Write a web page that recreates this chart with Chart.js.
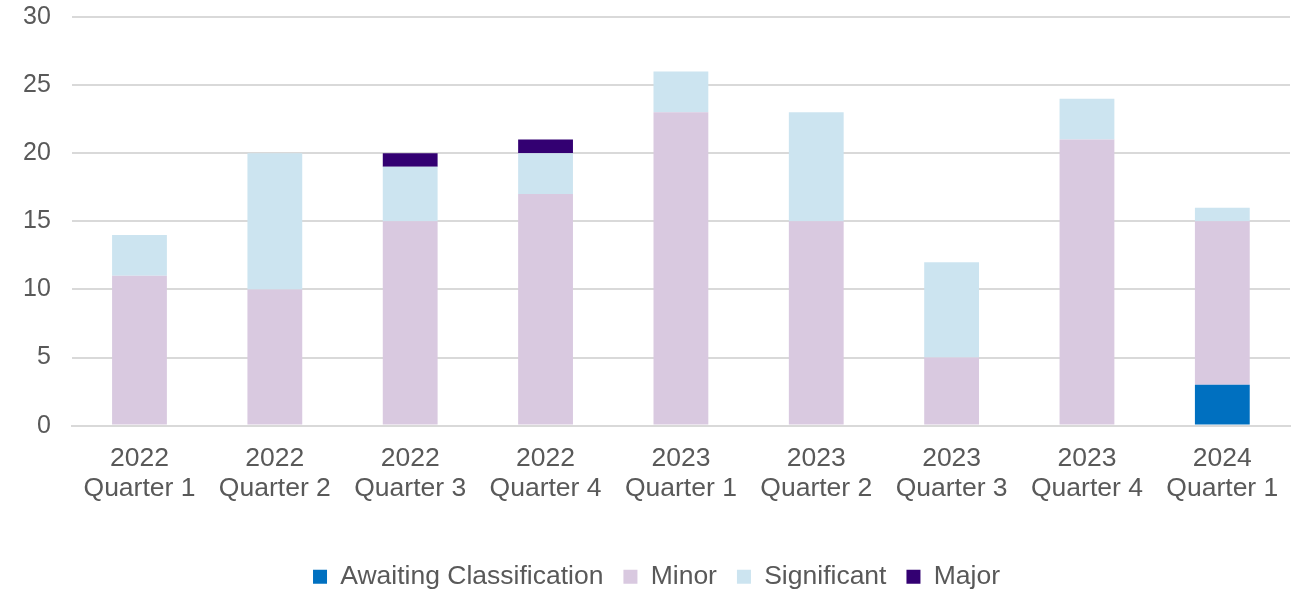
<!DOCTYPE html>
<html>
<head>
<meta charset="utf-8">
<script src="https://cdn.jsdelivr.net/npm/chart.js@4"></script>
<style>
  html, body { margin: 0; padding: 0; background: #fff; }
  #wrap { width: 1306px; height: 592px; position: relative; }
</style>
</head>
<body>
<div id="wrap"><canvas id="myChart"></canvas></div>
<script>
var quarters = [
    ['2022', 'Quarter 1'], ['2022', 'Quarter 2'], ['2022', 'Quarter 3'],
    ['2022', 'Quarter 4'], ['2023', 'Quarter 1'], ['2023', 'Quarter 2'],
    ['2023', 'Quarter 3'], ['2023', 'Quarter 4'], ['2024', 'Quarter 1']
];
var awaiting = [0, 0, 0, 0, 0, 0, 0, 0, 3];
var minor = [11, 10, 15, 17, 23, 15, 5, 21, 12];
var significant = [3, 10, 4, 3, 3, 8, 7, 3, 1];
var major = [0, 0, 1, 1, 0, 0, 0, 0, 0];

Chart.defaults.font.family = '"Liberation Sans", Arial, sans-serif';
Chart.defaults.color = '#595959';

var ctx = document.getElementById('myChart');
var myChart = new Chart(ctx, {
    type: 'bar',
    data: {
        labels: quarters,
        datasets: [
            { label: 'Awaiting Classification', data: awaiting, backgroundColor: '#0070C0' },
            { label: 'Minor', data: minor, backgroundColor: '#D9C9E0' },
            { label: 'Significant', data: significant, backgroundColor: '#CCE4F0' },
            { label: 'Major', data: major, backgroundColor: '#330072' }
        ]
    },
    options: {
        responsive: true,
        maintainAspectRatio: false,
        animation: false,
        layout: { padding: { left: 23, right: 16, top: 17, bottom: -8 } },
        datasets: { bar: { categoryPercentage: 1, barPercentage: 0.405 } },
        scales: {
            x: {
                stacked: true,
                grid: { display: false },
                border: { color: '#d9d9d9', width: 2 },
                ticks: { font: { size: 26.5, lineHeight: 1.13 }, color: '#595959', padding: 10 },
                // extra room between the axis labels and the legend
                afterFit: function (scale) { scale.height += 30; }
            },
            y: {
                stacked: true,
                min: 0,
                max: 30,
                ticks: { stepSize: 5, font: { size: 25 }, color: '#595959', padding: 0 },
                // invisible tick marks give the gap between labels and plot
                grid: { color: '#d9d9d9', lineWidth: 2, drawTicks: true, tickLength: 21, tickColor: 'rgba(0,0,0,0)' },
                border: { display: false }
            }
        },
        plugins: {
            legend: {
                display: true,
                position: 'bottom',
                labels: {
                    boxWidth: 14,
                    boxHeight: 14,
                    padding: 20,
                    font: { size: 26.5 },
                    color: '#595959'
                }
            },
            tooltip: { enabled: false }
        }
    }
});
</script>
</body>
</html>
